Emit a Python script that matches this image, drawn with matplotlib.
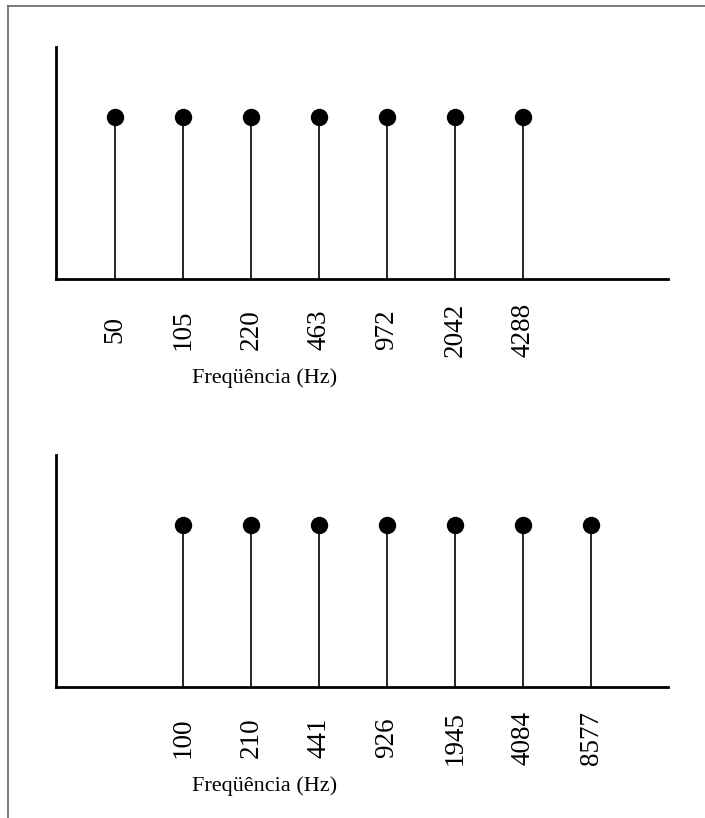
import matplotlib
matplotlib.use("Agg")
import matplotlib.pyplot as plt
from matplotlib.lines import Line2D

# Data
top_labels = ["50", "105", "220", "463", "972", "2042", "4288"]
top_slots = [1, 2, 3, 4, 5, 6, 7]
top_amps = [1, 1, 1, 1, 1, 1, 1]

bottom_labels = ["100", "210", "441", "926", "1945", "4084", "8577"]
bottom_slots = [2, 3, 4, 5, 6, 7, 8]
bottom_amps = [1, 1, 1, 1, 1, 1, 1]

xlabel = "Freqüência (Hz)"

plt.rcParams["font.family"] = ["Liberation Serif", "DejaVu Serif"]

W, H = 705, 818
fig = plt.figure(figsize=(W / 100, H / 100), dpi=100)

def make_axes(top_px, slots, amps, labels):
    left = 56 / W
    width = (668 - 56) / W
    height = 232 / H
    bottom = 1 - (top_px + 232) / H
    ax = fig.add_axes([left, bottom, width, height])
    ml, sl, bl = ax.stem(slots, amps, basefmt=" ")
    plt.setp(sl, color="black", linewidth=1.2)
    plt.setp(ml, color="black", markersize=11.5)
    bl.set_visible(False)
    ax.set_xlim(0.132, 9.13)
    ax.set_ylim(0, 1.43)
    for s in ["top", "right"]:
        ax.spines[s].set_visible(False)
    for s in ["left", "bottom"]:
        ax.spines[s].set_linewidth(2.0)
        ax.spines[s].set_color("black")
    ax.set_yticks([])
    ax.set_xticks(slots)
    ax.set_xticklabels(labels, rotation=90, va="center", ha="center", fontsize=19.5)
    ax.tick_params(axis="x", length=0, pad=36.5)
    ax.set_xlabel(xlabel, fontsize=16)
    ax.xaxis.set_label_coords(0.34, -0.427)
    ax.xaxis.label.set_va("center")
    return ax

make_axes(47, top_slots, top_amps, top_labels)
make_axes(455, bottom_slots, bottom_amps, bottom_labels)

# figure frame (top and left edges)
fig.add_artist(Line2D([8 / W, 1], [1 - 6 / H, 1 - 6 / H], transform=fig.transFigure,
                      color="#6e6e6e", linewidth=1.3))
fig.add_artist(Line2D([8 / W, 8 / W], [0, 1 - 6 / H], transform=fig.transFigure,
                      color="#6e6e6e", linewidth=1.3))

fig.savefig("out.png", dpi=100)
